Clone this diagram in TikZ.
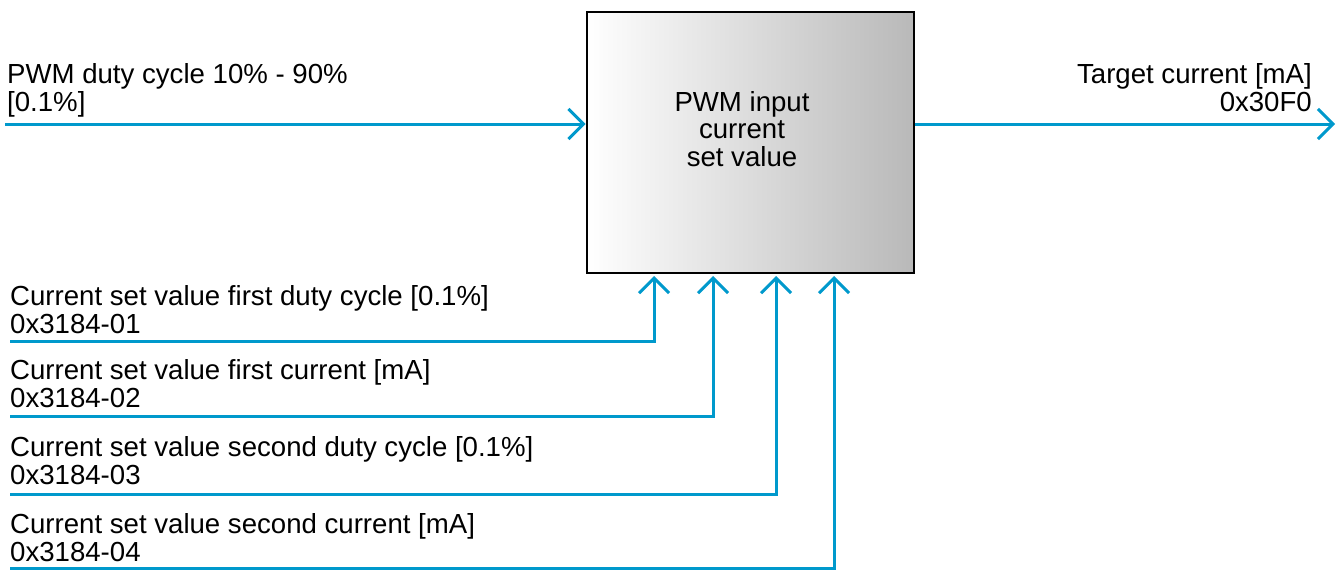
\documentclass[tikz,border=0pt]{standalone}
\usepackage{fontspec}
\setmainfont{Liberation Sans}
\usetikzlibrary{arrows.meta}
\definecolor{wirec}{RGB}{0,153,204}
\begin{document}
\begin{tikzpicture}[x=1pt,y=-1pt,
  lbl/.style={inner sep=0pt, font=\fontsize{27.6}{28}\selectfont, align=left, anchor=base west},
  rlbl/.style={inner sep=0pt, font=\fontsize{27.6}{28}\selectfont, align=right, anchor=base east},
  wire/.style={draw=wirec, line width=3pt},
  arr/.style={wire, -{Straight Barb[length=15pt,width=30pt,line width=3pt]}},
  blockbox/.style={draw=black, line width=2pt, left color=white, right color=gray!55,
    minimum width=327pt, minimum height=261pt, inner sep=0pt, anchor=north west}]
\useasboundingbox (0,0) rectangle (1338,570);
\node[blockbox] (box) at (585.5,10.5) {};
\node[inner sep=0pt, font=\fontsize{27.6}{27.5}\selectfont, align=center, anchor=base] (boxtext) at (742,166) {PWM input\\current\\set value};
% top input
\node[lbl] (lin) at (7,111) {PWM duty cycle 10\% - 90\%\\{[0.1\%]}};
\coordinate (pin) at (5,124);
\draw[arr] (pin) -- (box.west |- pin);
% output
\node[rlbl] (lout) at (1312,111) {Target current [mA]\\0x30F0};
\coordinate (pout) at (1335,124);
\draw[arr] (box.east |- pout) -- (pout);
% bottom inputs
\node[lbl] (l1) at (10,333) {Current set value first duty cycle [0.1\%]\\0x3184-01};
\node[lbl] (l2) at (10,407) {Current set value first current [mA]\\0x3184-02};
\node[lbl] (l3) at (10,484) {Current set value second duty cycle [0.1\%]\\0x3184-03};
\node[lbl] (l4) at (10,561) {Current set value second current [mA]\\0x3184-04};
\coordinate (i1) at (10,341);
\coordinate (i2) at (10,416);
\coordinate (i3) at (10,494);
\coordinate (i4) at (10,568);
\coordinate (t1) at (654,276);
\coordinate (t2) at (713,276);
\coordinate (t3) at (776,276);
\coordinate (t4) at (834,276);
\draw[arr] (i1) -| (t1);
\draw[arr] (i2) -| (t2);
\draw[arr] (i3) -| (t3);
\draw[arr] (i4) -| (t4);
\end{tikzpicture}
\end{document}
